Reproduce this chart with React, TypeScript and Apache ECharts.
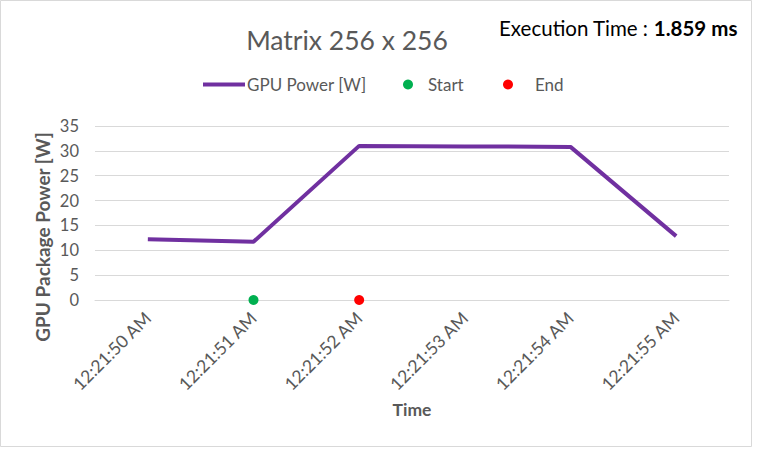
import React, { useEffect, useRef } from "react";
import * as echarts from "echarts";

const categories = ["12:21:50 AM", "12:21:51 AM", "12:21:52 AM", "12:21:53 AM", "12:21:54 AM", "12:21:55 AM"];
const gpuPower = [12.2, 11.7, 31.0, 30.9, 30.8, 12.85];
const startPoint = ["12:21:51 AM", 0];
const endPoint = ["12:21:52 AM", 0];
const yTicks = { min: 0, max: 35, interval: 5 };
const titleText = "Matrix 256 x 256";
const execLabel = "Execution Time : ";
const execValue = "1.859 ms";

const FONT = "Lato, 'Open Sans', sans-serif";
const GRAY = "#595959";

export default function App() {
  const ref = useRef<HTMLDivElement>(null);
  useEffect(() => {
    if (!ref.current) return;
    const chart = echarts.init(ref.current, null, { renderer: "svg" });
    chart.setOption({
      animation: false,
      backgroundColor: "#ffffff",
      textStyle: { fontFamily: FONT },
      title: [
        {
          text: titleText,
          left: 342,
          textAlign: "center",
          top: 21,
          textStyle: { fontFamily: FONT, fontSize: 26.5, fontWeight: "normal", color: GRAY },
        },
        {
          text: `{a|${execLabel}}{b|${execValue}}`,
          left: 494,
          top: 12,
          textStyle: {
            fontWeight: "normal",
            fontSize: 20,
            rich: {
              a: { fontFamily: FONT, fontSize: 20.5, color: "#000000", fontWeight: "normal" },
              b: { fontFamily: FONT, fontSize: 20.5, color: "#000000", fontWeight: "bold" },
            },
          },
        },
      ],
      legend: [
        {
          data: [{ name: "GPU Power [W]", icon: "rect" }],
          left: 198,
          top: 71,
          itemWidth: 42,
          itemHeight: 4,
          itemGap: 0,
          textStyle: { fontFamily: FONT, fontSize: 17, color: GRAY, padding: [0, 0, 0, -3] },
        },
        {
          data: ["Start"],
          left: 398,
          top: 71,
          itemWidth: 20,
          itemHeight: 10,
          textStyle: { fontFamily: FONT, fontSize: 17, color: GRAY, padding: [0, 0, 0, 5] },
        },
        {
          data: ["End"],
          left: 498,
          top: 71,
          itemWidth: 20,
          itemHeight: 10,
          textStyle: { fontFamily: FONT, fontSize: 17, color: GRAY, padding: [0, 0, 0, 12] },
        },
      ],
      grid: { left: 95, right: 30, top: 126, bottom: 149, containLabel: false },
      xAxis: {
        type: "category",
        data: categories,
        boundaryGap: true,
        name: "Time",
        nameLocation: "middle",
        nameGap: 100,
        nameTextStyle: { fontFamily: FONT, fontSize: 17.5, fontWeight: "bold", color: GRAY },
        axisLine: { show: true, lineStyle: { color: "#d9d9d9", width: 1 } },
        axisTick: { show: false },
        axisLabel: { rotate: 45, fontFamily: FONT, fontSize: 17.5, color: GRAY, margin: 15 },
      },
      yAxis: {
        type: "value",
        min: yTicks.min,
        max: yTicks.max,
        interval: yTicks.interval,
        axisLine: { show: false },
        axisTick: { show: false },
        axisLabel: { fontFamily: FONT, fontSize: 16.5, color: GRAY, margin: 16 },
        splitLine: { show: true, lineStyle: { color: "#d9d9d9", width: 1 } },
      },
      graphic: [
        {
          type: "rect",
          shape: { x: 0.5, y: 0.5, width: 751, height: 446 },
          style: { fill: "none", stroke: "#d9d9d9", lineWidth: 1 },
          silent: true,
        },
        {
          type: "text",
          x: 42,
          y: 237,
          rotation: Math.PI / 2,
          style: {
            text: "GPU Package Power [W]",
            fontFamily: FONT,
            fontSize: 19,
            fontWeight: "bold",
            fill: GRAY,
            align: "center",
            verticalAlign: "middle",
          },
        },
      ],
      series: [
        {
          name: "GPU Power [W]",
          type: "line",
          data: gpuPower,
          symbol: "none",
          lineStyle: { color: "#7030A0", width: 4 },
          itemStyle: { color: "#7030A0" },
        },
        {
          name: "Start",
          type: "scatter",
          data: [startPoint],
          symbol: "circle",
          symbolSize: 10,
          itemStyle: { color: "#00B050", opacity: 1 },
        },
        {
          name: "End",
          type: "scatter",
          data: [endPoint],
          symbol: "circle",
          symbolSize: 10,
          itemStyle: { color: "#FF0000", opacity: 1 },
        },
      ],
    });
    return () => chart.dispose();
  }, []);
  return (
    <div
      ref={ref}
      style={{ position: "absolute", left: 0, top: 0, width: 759, height: 449 }}
    />
  );
}
